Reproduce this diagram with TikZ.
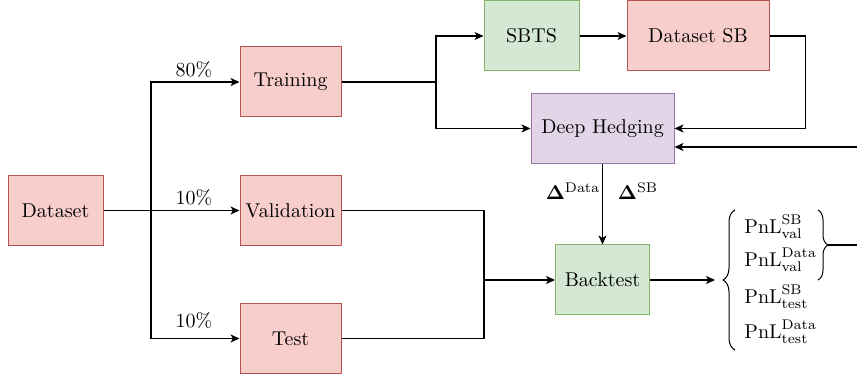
\documentclass[tikz,border=0pt]{standalone}
\usepackage{amsmath}
\usetikzlibrary{arrows.meta,decorations.pathreplacing}
\definecolor{redfill}{HTML}{F8CECC}
\definecolor{redline}{HTML}{B85450}
\definecolor{greenfill}{HTML}{D5E8D4}
\definecolor{greenline}{HTML}{82B366}
\definecolor{purplefill}{HTML}{E1D5E7}
\definecolor{purpleline}{HTML}{9673A6}
\begin{document}
\begin{tikzpicture}[x=0.5pt, y=-0.5pt,
	box/.style={minimum height=35pt, inner sep=0pt, line width=0.5pt},
	redbox/.style={box, draw=redline, fill=redfill},
	greenbox/.style={box, draw=greenline, fill=greenfill},
	purplebox/.style={box, draw=purpleline, fill=purplefill},
	pnl/.style={anchor=west, inner sep=0pt},
	wire/.style={line width=0.6pt},
	arr/.style={wire, -{Stealth[length=4.5pt, width=4pt, inset=1.2pt]}},
	brc/.style={line width=0.5pt, decorate, decoration={brace, amplitude=#1}}]
	\useasboundingbox (0,0) rectangle (857,379);
	% boxes
	\node[redbox, minimum width=47.5pt] (dataset) at (55.5,210.5) {Dataset};
	\node[redbox, minimum width=50.5pt] (training) at (290.5,82) {Training};
	\node[redbox, minimum width=50.5pt] (validation) at (290.5,210.5) {Validation};
	\node[redbox, minimum width=50.5pt] (test) at (290.5,338.5) {Test};
	\node[greenbox, minimum width=47.5pt] (sbts) at (531.5,36) {SBTS};
	\node[redbox, minimum width=71pt] (datasetsb) at (698,36) {Dataset SB};
	\node[purplebox, minimum width=71.5pt] (hedging) at (602.5,128.5) {Deep Hedging};
	\node[greenbox, minimum width=47pt] (backtest) at (602.5,280) {Backtest};
	% split of the dataset
	\coordinate (split) at (151,210.5);
	\draw[arr] (dataset) -- (validation);
	\draw[arr] (split) |- (training);
	\draw[arr] (split) |- (test);
	\node (p80) at (194,70) {80\%};
	\node (p10v) at (194,198) {10\%};
	\node (p10t) at (194,321) {10\%};
	% training side
	\coordinate (fork) at (436,82);
	\draw[wire] (training) -- (fork);
	\draw[arr] (fork) |- (sbts);
	\draw[arr] (fork) |- (hedging);
	\draw[arr] (sbts) -- (datasetsb);
	\draw[arr] (datasetsb.east) -- ++(36,0) |- (hedging);
	\coordinate (loopin) at (857,147);
	\draw[arr] (loopin) -- (loopin -| hedging.east);
	\draw[arr] (hedging) -- (backtest);
	\node (dData) at (573,191) {$\mathbf{\Delta}^{\mathrm{Data}}$};
	\node (dSB) at (638,191) {$\mathbf{\Delta}^{\mathrm{SB}}$};
	% validation and test
	\coordinate (merge) at (484,280);
	\draw[wire] (validation) -| (merge);
	\draw[wire] (test) -| (merge);
	\draw[arr] (merge) -- (backtest);
	% results
	\coordinate (brtip) at (715,280);
	\draw[arr] (backtest) -- (brtip);
	\node[pnl] (pnlA) at (744,227) {$\mathrm{PnL}^{\mathrm{SB}}_{\mathrm{val}}$};
	\node[pnl] (pnlB) at (744,260) {$\mathrm{PnL}^{\mathrm{Data}}_{\mathrm{val}}$};
	\node[pnl] (pnlC) at (744,297) {$\mathrm{PnL}^{\mathrm{SB}}_{\mathrm{test}}$};
	\node[pnl] (pnlD) at (744,332) {$\mathrm{PnL}^{\mathrm{Data}}_{\mathrm{test}}$};
	\draw[brc=6pt] (735,350) -- (735,210);
	\draw[brc=5pt] (818,210) -- (818,280);
	\coordinate (brB) at (828,245);
	\coordinate (outB) at (857,245);
	\draw[wire] (brB) -- (outB);
\end{tikzpicture}
\end{document}
